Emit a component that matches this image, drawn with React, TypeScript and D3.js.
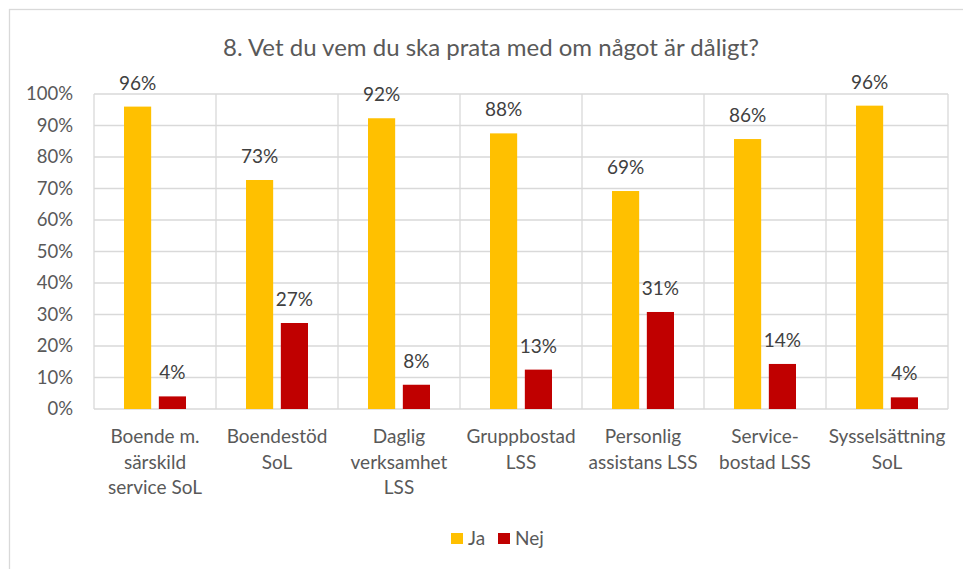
import React from "react";
import * as d3 from "d3";

const categories: string[][] = [
  ["Boende m.", "särskild", "service SoL"],
  ["Boendestöd", "SoL"],
  ["Daglig", "verksamhet", "LSS"],
  ["Gruppbostad", "LSS"],
  ["Personlig", "assistans LSS"],
  ["Service-", "bostad LSS"],
  ["Sysselsättning", "SoL"],
];
const seriesNames = ["Ja", "Nej"];
const jaValues = [96.0, 72.7, 92.3, 87.5, 69.2, 85.7, 96.3];
const nejValues = [4.0, 27.3, 7.7, 12.5, 30.8, 14.3, 3.7];
const seriesColors = ["#FFC000", "#C00000"];
const yTicks = [0, 10, 20, 30, 40, 50, 60, 70, 80, 90, 100];
const title = "8. Vet du vem du ska prata med om något är dåligt?";

const W = 963;
const H = 569;
const FONT = "Lato, 'Open Sans', sans-serif";

export default function App() {
  const left = 94;
  const right = 948;
  const top = 94;
  const bottom = 409;
  const x = d3
    .scaleBand<number>()
    .domain(categories.map((_, i) => i))
    .range([left, right])
    .padding(0);
  const y = d3.scaleLinear().domain([0, 100]).range([bottom, top]);
  const bw = x.bandwidth();
  const inner = d3
    .scaleBand<string>()
    .domain(seriesNames)
    .range([bw / 2 - 31, bw / 2 + 31])
    .paddingInner(0.22)
    .paddingOuter(0);
  const series = [jaValues, nejValues];
  const grid = "#D9D9D9";

  return (
    <svg
      width={W}
      height={H}
      style={{ position: "absolute", left: 0, top: 0, background: "#fff" }}
      fontFamily={FONT}
    >
      <rect x={9.5} y={9.5} width={W + 20} height={H + 20} fill="#fff" stroke={grid} strokeWidth={1.3} />
      <text x={491} y={56} textAnchor="middle" fontSize={24} fill="#595959">
        {title}
      </text>
      {yTicks.map((t) => (
        <line key={"h" + t} x1={left} x2={right} y1={y(t)} y2={y(t)} stroke={grid} strokeWidth={1.3} />
      ))}
      {categories.map((_, i) => (
        <line key={"v" + i} x1={x(i)!} x2={x(i)!} y1={top} y2={bottom} stroke={grid} strokeWidth={1.3} />
      ))}
      <line x1={right} x2={right} y1={top} y2={bottom} stroke={grid} strokeWidth={1.3} />
      {yTicks.map((t) => (
        <text key={"t" + t} x={73} y={y(t)} dy="0.35em" textAnchor="end" fontSize={18.5} fill="#595959">
          {t + "%"}
        </text>
      ))}
      {series.map((vals, s) =>
        vals.map((v, i) => {
          const bx = x(i)! + inner(seriesNames[s])!;
          return (
            <g key={s + "-" + i}>
              <rect x={bx} y={y(v)} width={inner.bandwidth()} height={bottom - y(v)} fill={seriesColors[s]} />
              <text
                x={bx + inner.bandwidth() / 2}
                y={y(v) - 17}
                textAnchor="middle"
                fontSize={19}
                fill="#404040"
              >
                {Math.round(v) + "%"}
              </text>
            </g>
          );
        })
      )}
      {categories.map((lines, i) =>
        lines.map((ln, j) => (
          <text
            key={"c" + i + j}
            x={x(i)! + bw / 2}
            y={443 + j * 25.5}
            textAnchor="middle"
            fontSize={19}
            fill="#595959"
          >
            {ln}
          </text>
        ))
      )}
      {seriesNames.map((n, s) => {
        const lx = [451, 498][s];
        return (
          <g key={"l" + n}>
            <rect x={lx} y={533} width={12} height={11} fill={seriesColors[s]} />
            <text x={lx + 17} y={545} fontSize={19} fill="#595959">
              {n}
            </text>
          </g>
        );
      })}
    </svg>
  );
}
